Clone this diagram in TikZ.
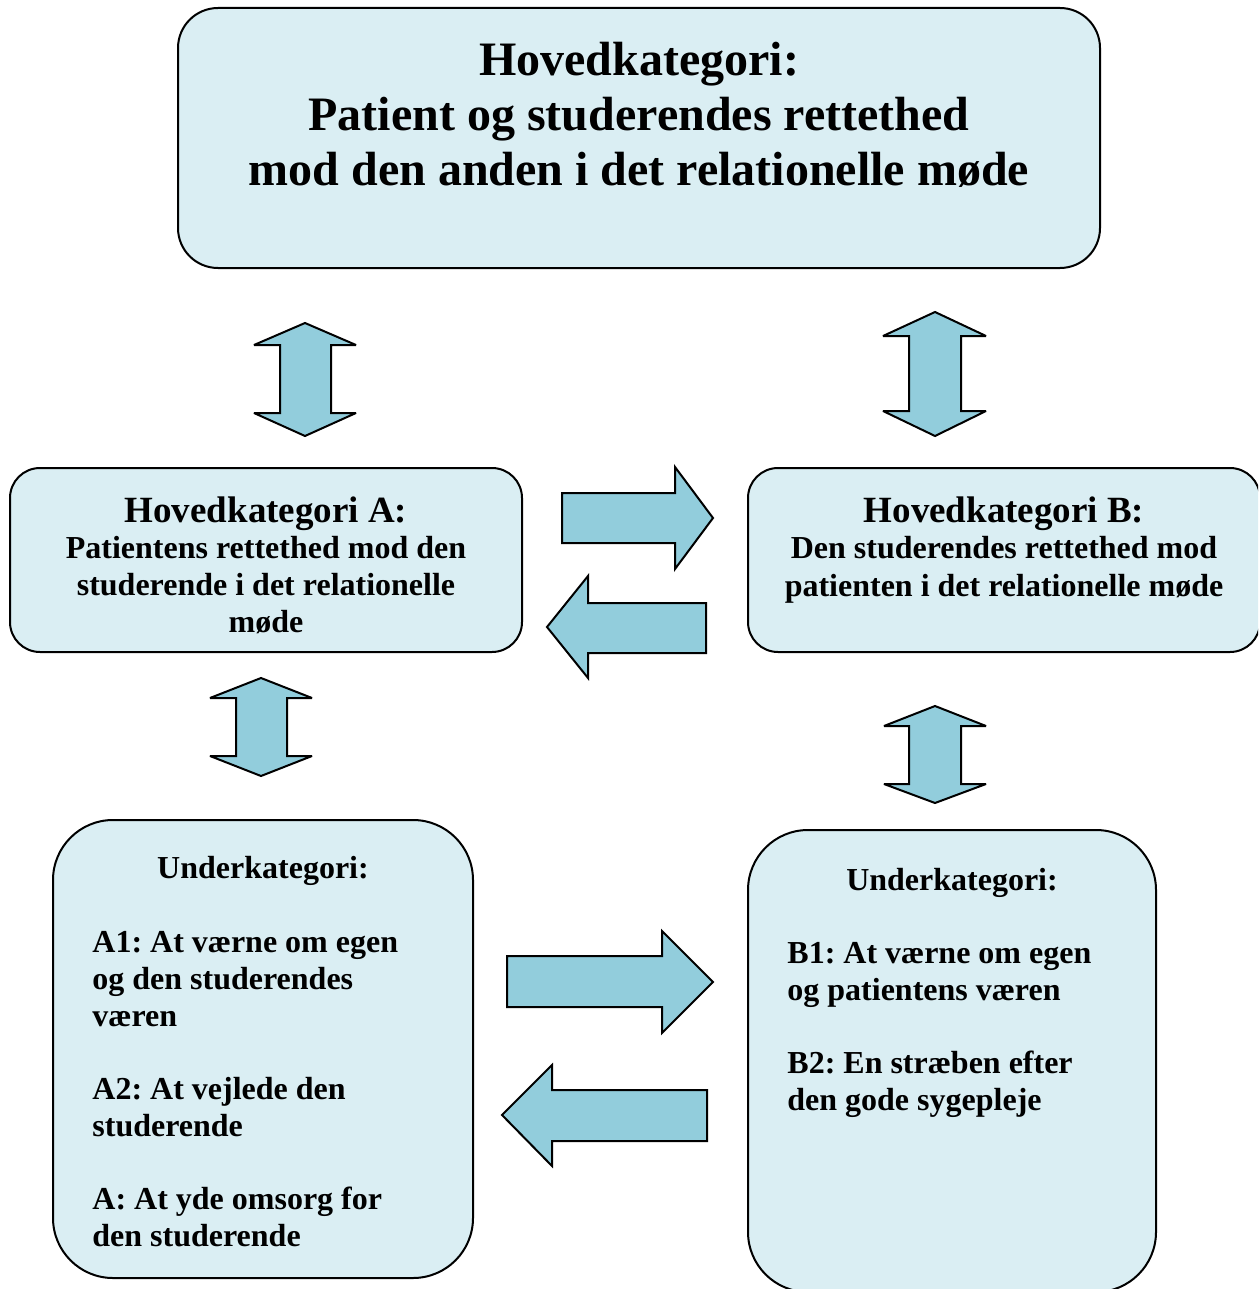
\documentclass[tikz,border=0pt]{standalone}
\usepackage{fontspec}
\setmainfont{Liberation Serif}
\frenchspacing
\definecolor{boxfill}{HTML}{DAEEF3}
\definecolor{arrfill}{HTML}{92CDDC}
\begin{document}
\begin{tikzpicture}[x=0.5pt,y=-0.5pt,
  box/.style={draw=black, fill=boxfill, line width=1pt, inner sep=0pt, outer sep=0pt},
  blockarrow/.style={draw=black, fill=arrfill, line width=1pt, line join=miter, miter limit=4},
  bigfont/.style={font=\fontsize{24}{27.5}\bfseries\selectfont},
  headfont/.style={font=\fontsize{18.5}{21}\bfseries\selectfont},
  bodyfont/.style={font=\fontsize{16}{18.5}\bfseries\selectfont},
  txt/.style={inner sep=0pt, anchor=base},
  ltxt/.style={inner sep=0pt, anchor=base west}]
\useasboundingbox (0,0) rectangle (1258,1289);
\clip (0,0) rectangle (1258,1289);
% boxes
\node[box, rounded corners=20pt, minimum width=461pt, minimum height=130pt] (top) at (639,138) {};
\node[box, rounded corners=15pt, minimum width=256pt, minimum height=92pt] (boxA) at (266,560) {};
\node[box, rounded corners=15pt, minimum width=256pt, minimum height=92pt] (boxB) at (1004,560) {};
\node[box, rounded corners=30pt, minimum width=210pt, minimum height=229pt] (subA) at (263,1049) {};
\node[box, rounded corners=30pt, minimum width=204pt, minimum height=231pt] (subB) at (952,1061) {};
% top text
\node[txt, bigfont] (t1) at (639,76) {Hovedkategori:};
\node[txt, bigfont] (t2) at (639,131) {Patient og studerendes rettethed};
\node[txt, bigfont] (t3) at (639,186) {mod den anden i det relationelle møde};
% box A text
\node[txt, headfont] (a0) at (266,522) {Hovedkategori A:};
\node[txt, bodyfont] (a1) at (266,558) {Patientens rettethed mod den};
\node[txt, bodyfont] (a2) at (266,595) {studerende i det relationelle};
\node[txt, bodyfont] (a3) at (266,632) {møde};
% box B text
\node[txt, headfont] (b0) at (1004,522) {Hovedkategori B:};
\node[txt, bodyfont] (b1) at (1004,558) {Den studerendes rettethed mod};
\node[txt, bodyfont] (b2) at (1004,596) {patienten i det relationelle møde};
% sub A text
\node[txt, bodyfont] (sa0) at (263,878) {Underkategori:};
\node[ltxt, bodyfont] (sa1) at (92,952) {A1: At værne om egen};
\node[ltxt, bodyfont] (sa2) at (92,989) {og den studerendes};
\node[ltxt, bodyfont] (sa3) at (92,1026) {væren};
\node[ltxt, bodyfont] (sa4) at (92,1099) {A2: At vejlede den};
\node[ltxt, bodyfont] (sa5) at (92,1136) {studerende};
\node[ltxt, bodyfont] (sa6) at (92,1209) {A: At yde omsorg for};
\node[ltxt, bodyfont] (sa7) at (92,1246) {den studerende};
% sub B text
\node[txt, bodyfont] (sb0) at (952,890) {Underkategori:};
\node[ltxt, bodyfont] (sb1) at (787,963) {B1: At værne om egen};
\node[ltxt, bodyfont] (sb2) at (787,1000) {og patientens væren};
\node[ltxt, bodyfont] (sb3) at (787,1073) {B2: En stræben efter};
\node[ltxt, bodyfont] (sb4) at (787,1110) {den gode sygepleje};
% vertical double arrows
\draw[blockarrow] (305,323) -- (356,345) -- (331,345) -- (331,413) -- (356,413) -- (305,436) -- (254,413) -- (280,413) -- (280,345) -- (254,345) -- cycle;
\draw[blockarrow] (935,312) -- (986,336) -- (961,336) -- (961,411) -- (986,411) -- (935,436) -- (883,411) -- (909,411) -- (909,336) -- (883,336) -- cycle;
\draw[blockarrow] (261,678) -- (312,698) -- (287,698) -- (287,756) -- (312,756) -- (261,776) -- (210,756) -- (236,756) -- (236,698) -- (210,698) -- cycle;
\draw[blockarrow] (935,706) -- (986,726) -- (961,726) -- (961,784) -- (986,784) -- (935,803) -- (884,784) -- (909,784) -- (909,726) -- (884,726) -- cycle;
% horizontal arrows middle
\draw[blockarrow] (562,493) -- (675,493) -- (675,467) -- (713,518) -- (675,569) -- (675,543) -- (562,543) -- cycle;
\draw[blockarrow] (706,603) -- (588,603) -- (588,576) -- (547,627) -- (588,678) -- (588,653) -- (706,653) -- cycle;
% horizontal arrows bottom
\draw[blockarrow] (507,956) -- (662,956) -- (662,931) -- (713,982) -- (662,1033) -- (662,1007) -- (507,1007) -- cycle;
\draw[blockarrow] (707,1090) -- (552,1090) -- (552,1065) -- (502,1115) -- (552,1166) -- (552,1141) -- (707,1141) -- cycle;
\end{tikzpicture}
\end{document}
